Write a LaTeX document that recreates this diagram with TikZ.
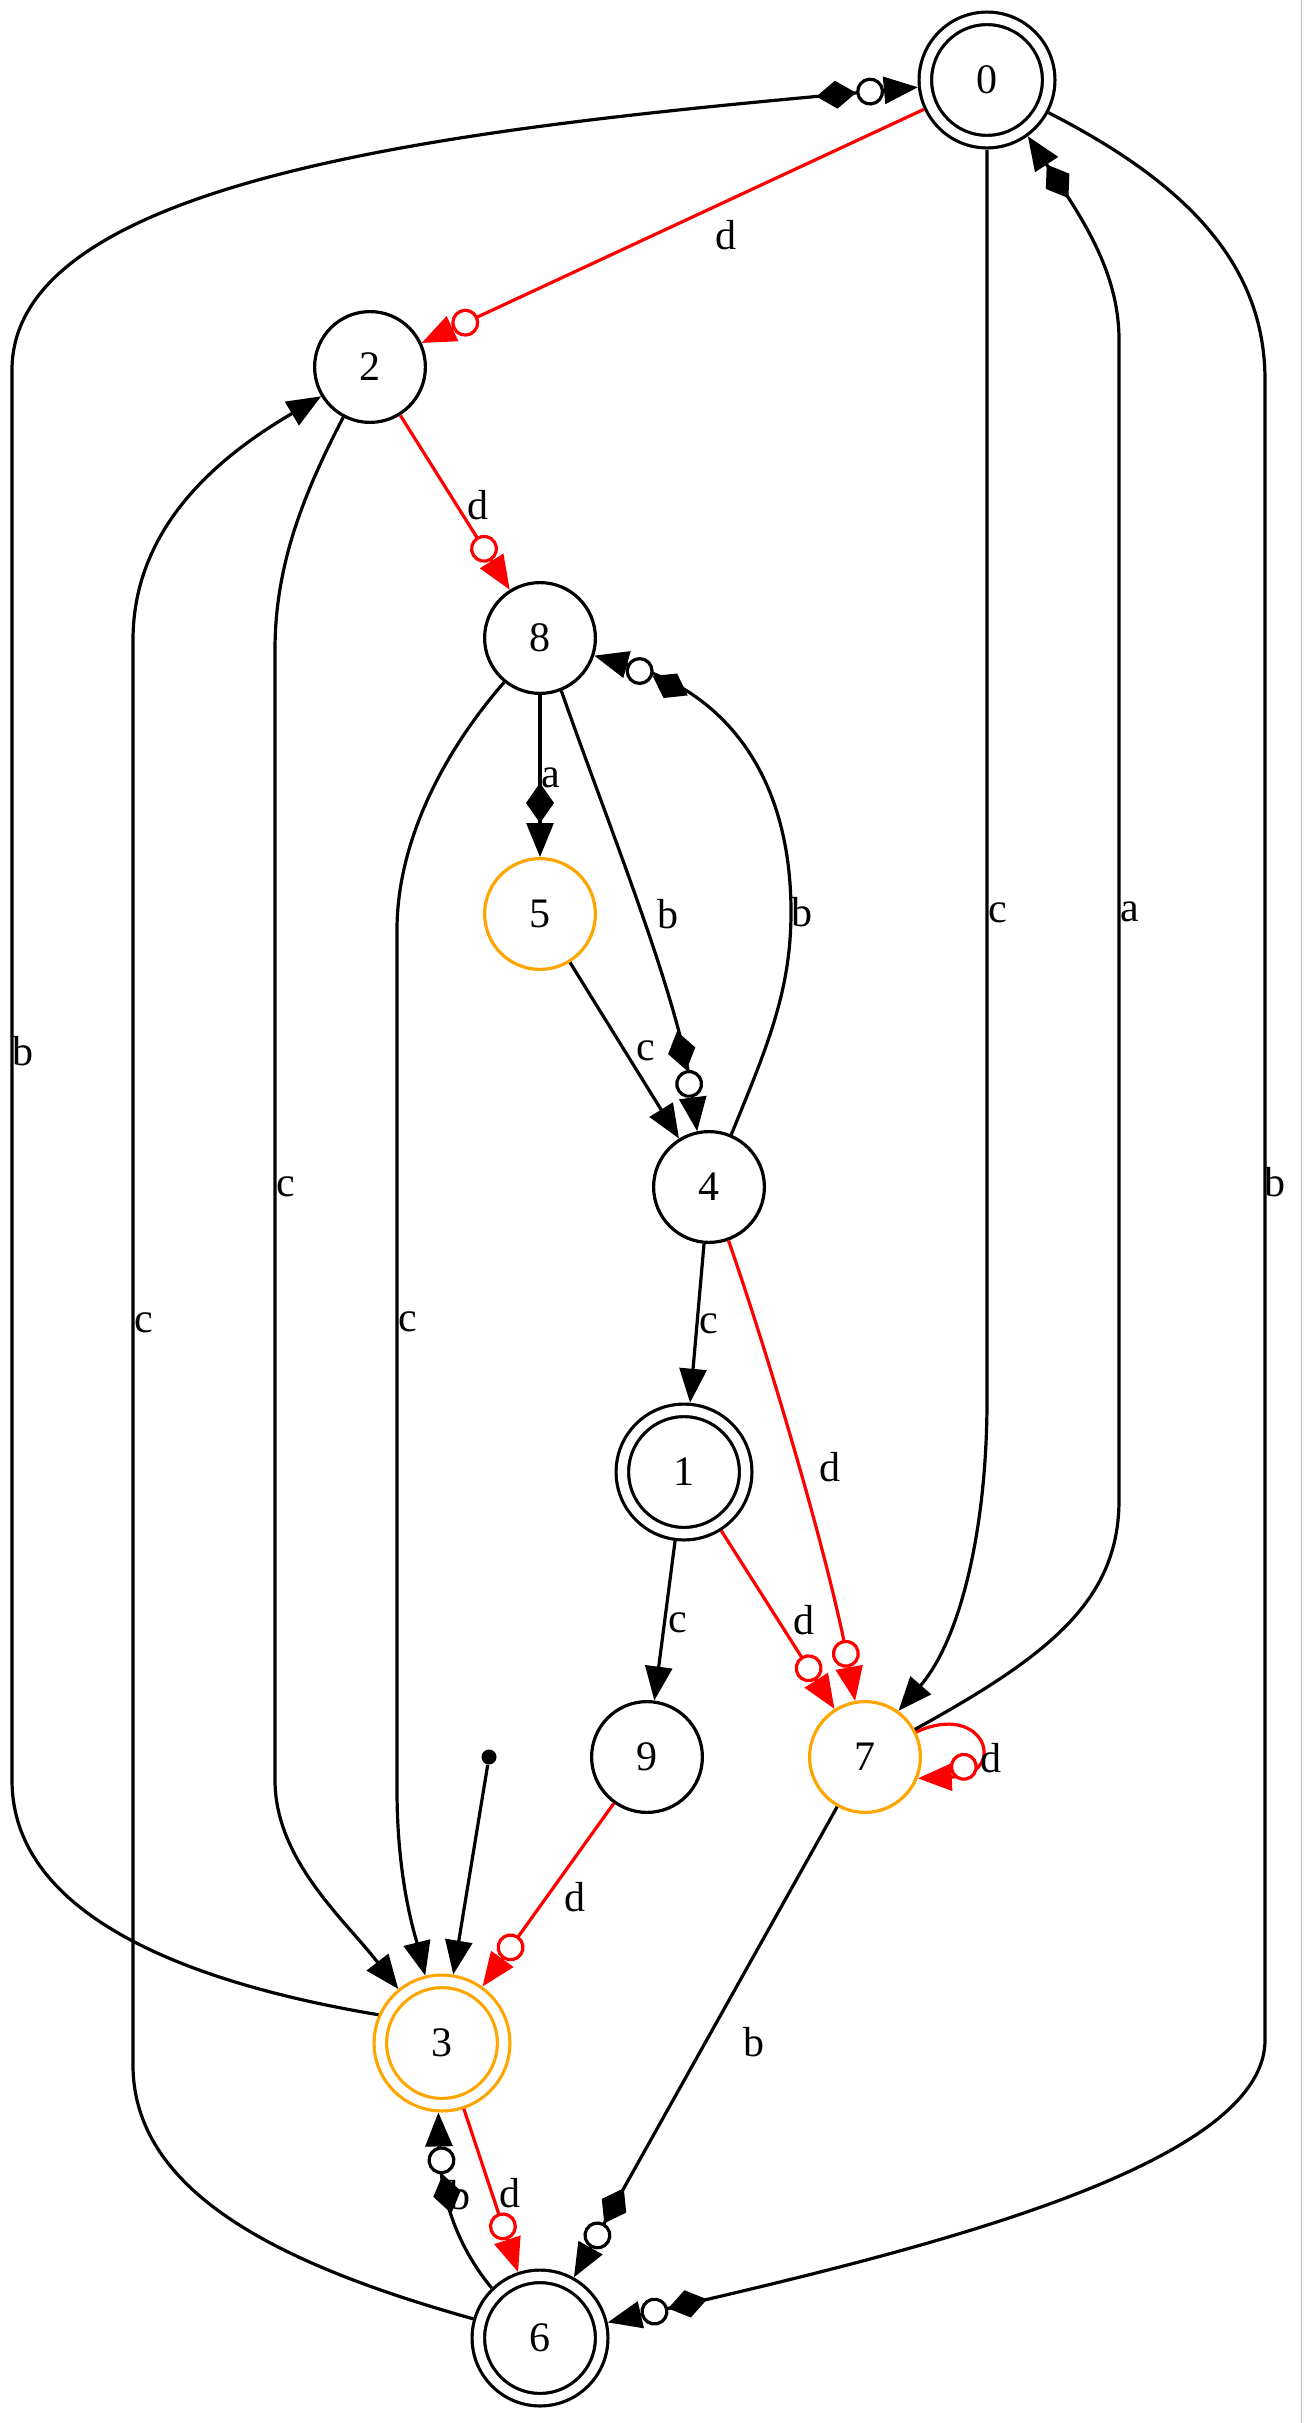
\documentclass[tikz,border=0pt]{standalone}
\usepackage{fontspec}
\setmainfont{Liberation Serif}
\usetikzlibrary{arrows.meta,positioning,decorations.markings}
\definecolor{stateorange}{HTML}{FFA500}
\tikzstyle{state}    = [circle, draw, line width=1.6pt, inner sep=0pt, minimum size=55.4pt]
\tikzstyle{accept}   = [state, double, double distance=4.65pt, minimum size=61.65pt, outer sep=3.93pt]
\tikzstyle{startdot} = [circle, fill, inner sep=0pt, minimum size=7.5pt]
\tikzstyle{line}     = [draw, line width=1.6pt, -{Triangle[length=17pt, width=13.5pt]}]
\tikzstyle{dline}    = [line, red, postaction={decorate, decoration={markings,
                          mark=at position -24pt with {\draw [red, fill=white] (0,0) circle [radius=6.2pt];}}}]
\tikzstyle{bline}    = [line, postaction={decorate, decoration={markings,
                          mark=at position -41pt with {\fill (10pt,0pt) -- (0pt,7pt) -- (-10pt,0pt) -- (0pt,-7pt) -- cycle;},
                          mark=at position -24pt with {\draw [fill=white] (0,0) circle [radius=6.2pt];}}}]
\tikzstyle{aline}    = [line, postaction={decorate, decoration={markings,
                          mark=at position -27pt with {\fill (10pt,0pt) -- (0pt,7pt) -- (-10pt,0pt) -- (0pt,-7pt) -- cycle;}}}]
\tikzstyle{lbl}      = [inner sep=0pt, text=black]
\begin{document}
\begin{tikzpicture}[x=0.5pt, y=-0.5pt, node distance=140pt, font=\fontsize{21}{25}\selectfont]
		\useasboundingbox (0,0) rectangle (1303,2423);
		\draw [gray!50, line width=0.6pt] (1301.5,0) -- (1301.5,2423);

		% Node Setting %

		% 0 =======================================%
		\node [accept] (q0) at (987,80) {0};
		% 1 =======================================%
		\node [state, below of = q0, xshift=-308.5pt, yshift=-3.5pt] (q2) {2};
		% 2 =======================================%
		\node [state, below of = q2, xshift=85pt, yshift=4.5pt] (q8) {8};
		% 3 =======================================%
		\node [state, draw=stateorange, below of = q8, yshift=2pt] (q5) {5};
		% 4 =======================================%
		\node [state, below of = q5, xshift=84.5pt, yshift=3.5pt] (q4) {4};
		% 5 =======================================%
		\node [accept, below of = q4, xshift=-12.5pt, yshift=-2.5pt] (q1) {1};
		% 6 =======================================%
		\node [state, below of = q1, xshift=-18.5pt, yshift=-2.5pt] (q9) {9};
		\node [state, draw=stateorange, right of = q9, xshift=-31pt] (q7) {7};
		\node [startdot, left of = q9, xshift=61pt] (init) {};
		% 7 =======================================%
		\node [accept, draw=stateorange, below of = init, xshift=-23.5pt, yshift=-3pt] (q3) {3};
		% 8 =======================================%
		\node [accept, below of = q3, xshift=49pt, yshift=-7.5pt] (q6) {6};
		%=========================================%

		% Connection %

		\path [line] (init) -- (q3);
		\path [line] (q5) -- node [lbl, pos=0.557, xshift=7.7pt, yshift=4.7pt] {c} (q4);
		\path [line] (q4) -- node [lbl, pos=0.5, xshift=6pt, yshift=-0.5pt] {c} (q1);
		\path [line] (q1) -- node [lbl, pos=0.5, xshift=6.7pt, yshift=-0.9pt] {c} (q9);
		\path [line] (q0) -- node [lbl, pos=0.61, xshift=5.5pt] {c} (987,1400) .. controls (987,1530) and (960,1640) .. (q7.54);
		\path [line] (q2.-118) .. controls (300,500) and (275,570) .. (275,650) -- node [lbl, pos=0.475, xshift=5.5pt] {c} (275,1780) .. controls (275,1860) and (345,1920) .. (q3.129);
		\path [line] (q6.164) .. controls (300,2270) and (133,2200) .. (133,2065) -- node [lbl, pos=0.521, xshift=5.5pt] {c} (133,640) .. controls (133,520) and (230,450) .. (q2.211);
		\path [line] (q8.-129) .. controls (445,750) and (397,840) .. (397,930) -- node [lbl, pos=0.456, xshift=5.5pt] {c} (397,1790) .. controls (397,1880) and (415,1935) .. (q3.104);
		%=========================================%
		\path [dline] (q0) -- node [lbl, pos=0.42, xshift=6.5pt, yshift=-14pt] {d} (q2);
		\path [dline] (q2) -- node [lbl, pos=0.57, xshift=7.7pt, yshift=4.8pt] {d} (q8);
		\path [dline] (q4.-70) .. controls (765,1345) and (830,1560) .. (q7.100) node [lbl, pos=0.52, xshift=15.5pt] {d};
		\path [dline] (q1) -- node [lbl, pos=0.568, xshift=9.3pt, yshift=5.9pt] {d} (q7);
		\path [dline] (q9) -- node [lbl, pos=0.437, xshift=9.4pt, yshift=-6.7pt] {d} (q3);
		\path [dline] (q3) -- node [lbl, pos=0.55, xshift=8pt, yshift=2.7pt] {d} (q6);
		\path [dline] (q7.26) .. controls (985,1700) and (1010,1775) .. (q7.-22) node [lbl, pos=0.5, xshift=7pt, yshift=-8pt] {d};
		%=========================================%
		\path [bline] (q3.156) .. controls (200,1985) and (12,1920) .. (12,1780) -- node [lbl, pos=0.517, xshift=5.5pt] {b} (12,370) .. controls (12,170) and (500,125) .. (q0.186);
		\path [bline] (q0.-28) .. controls (1180,180) and (1265,260) .. (1265,380) -- node [lbl, pos=0.483, xshift=5pt] {b} (1265,2040) .. controls (1265,2170) and (900,2255) .. (q6.13);
		\path [bline] (q8.-68) .. controls (610,830) and (680,1000) .. (q4.102) node [lbl, pos=0.5, xshift=13.5pt] {b};
		\path [bline] (q4.67) .. controls (768,1045) and (791,990) .. (791,912) node [lbl, xshift=5.5pt] {b} .. controls (791,770) and (720,690) .. (q8.-18);
		\path [bline] (q7) -- node [lbl, pos=0.457, xshift=18.7pt, yshift=-10.4pt] {b} (q6);
		\path [bline] (q6.134) .. controls (460,2250) and (440,2200) .. (q3.-93) node [lbl, pos=0.6, xshift=5.5pt, yshift=3pt] {b};
		%=========================================%
		\path [aline] (q8) -- node [lbl, pos=0.51, xshift=5.5pt] {a} (q5);
		\path [aline] (q7.29) .. controls (1050,1655) and (1119,1600) .. (1119,1500) -- node [lbl, pos=0.507, xshift=5.5pt] {a} (1119,340) .. controls (1119,270) and (1080,215) .. (q0.-54);
	\end{tikzpicture}
\end{document}
